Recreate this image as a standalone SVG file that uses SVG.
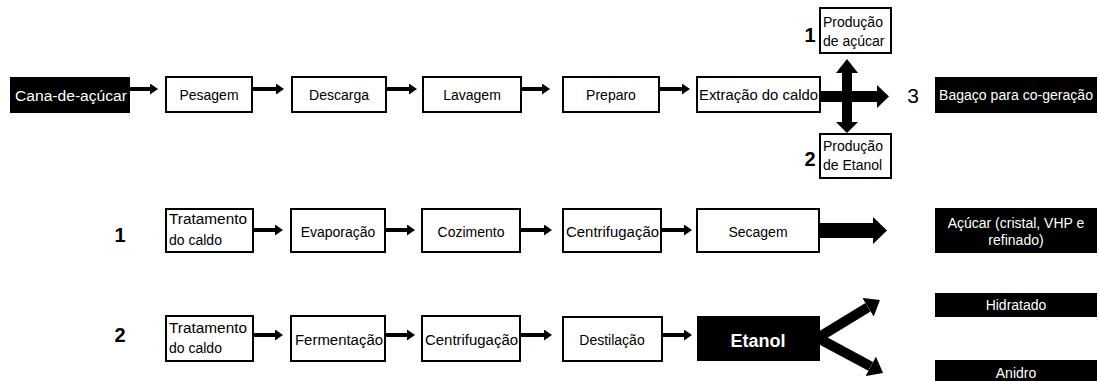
<svg xmlns="http://www.w3.org/2000/svg" width="1099" height="381" viewBox="0 0 1099 381">
<defs>
<style>
.wb{fill:#fff;stroke:#000;stroke-width:2}
.bb{fill:#000;stroke:none}
.t{font-family:"Liberation Sans",Arial,sans-serif;font-size:14px;fill:#000}
.tw{font-family:"Liberation Sans",Arial,sans-serif;font-size:14px;fill:#fff}
.c{text-anchor:middle}
.num{font-family:"Liberation Sans",Arial,sans-serif;font-size:20px;font-weight:bold;fill:#000;text-anchor:middle}
.sa{stroke:#000;stroke-width:4;fill:none;marker-end:url(#sh)}
.fa{stroke:#000;stroke-width:10;fill:none;marker-end:url(#bh)}
</style>
<marker id="sh" markerUnits="userSpaceOnUse" viewBox="0 0 8 11" refX="0" refY="5.5" markerWidth="8" markerHeight="11" orient="auto"><path d="M0,0 L8,5.5 L0,11 Z" fill="#000"/></marker>
<marker id="bh" markerUnits="userSpaceOnUse" viewBox="0 0 14 22" refX="0" refY="11" markerWidth="14" markerHeight="22" orient="auto"><path d="M0,0 L14,11 L0,22 Z" fill="#000"/></marker>
</defs>
<rect width="1099" height="381" fill="#fff"/>

<g id="connectors">
<line class="sa" x1="130" y1="89" x2="150" y2="89"/>
<line class="sa" x1="252" y1="89" x2="276" y2="89"/>
<line class="sa" x1="386" y1="89" x2="409" y2="89"/>
<line class="sa" x1="521" y1="89" x2="542" y2="89"/>
<line class="sa" x1="659" y1="89" x2="682" y2="89"/>
<polygon fill="#000" points="820,91 842,91 842,73 836,73 847,59 858,73 852,73 852,91 877,91 877,85 889,96.5 877,108 877,102 852,102 852,122 858,122 847,133 836,122 842,122 842,102 820,102"/>
<line class="sa" x1="253" y1="230" x2="275" y2="230"/>
<line class="sa" x1="385" y1="230" x2="407" y2="230"/>
<line class="sa" x1="520" y1="230" x2="544" y2="230"/>
<line class="sa" x1="661" y1="230" x2="684" y2="230"/>
<polygon fill="#000" points="819,223 873,223 873,217 887,230.5 873,244 873,238 819,238"/>
<line class="sa" x1="253" y1="335" x2="275" y2="335"/>
<line class="sa" x1="385" y1="335" x2="407" y2="335"/>
<line class="sa" x1="520" y1="335" x2="544" y2="335"/>
<line class="sa" x1="662" y1="335" x2="684" y2="335"/>
<line class="fa" x1="816" y1="339" x2="868" y2="307.3"/>
<line class="fa" x1="816" y1="337" x2="870.7" y2="366.4"/>
</g>

<g id="n-cana"><rect class="bb" x="10" y="77" width="120" height="36"/><text class="tw" x="15" y="101" font-size="15" textLength="112" lengthAdjust="spacingAndGlyphs">Cana-de-açúcar</text></g>
<g id="n-pesagem"><rect class="wb" x="166" y="77" width="86" height="35"/><text class="t c" x="209" y="100">Pesagem</text></g>
<g id="n-descarga"><rect class="wb" x="292" y="77" width="94" height="35"/><text class="t c" x="339" y="100">Descarga</text></g>
<g id="n-lavagem"><rect class="wb" x="423" y="77" width="98" height="35"/><text class="t c" x="472" y="100">Lavagem</text></g>
<g id="n-preparo"><rect class="wb" x="563" y="77" width="96" height="35"/><text class="t c" x="611" y="100">Preparo</text></g>
<g id="n-extracao"><rect class="wb" x="697" y="77" width="123" height="35"/><text class="t" x="699" y="100" textLength="119" lengthAdjust="spacingAndGlyphs">Extração do caldo</text></g>
<g id="n-prod-acucar"><rect class="wb" x="820" y="8" width="71" height="45"/><text class="t" x="823" y="27">Produção</text><text class="t" x="823" y="46">de açúcar</text><text class="num" x="810" y="42">1</text></g>
<g id="n-prod-etanol"><rect class="wb" x="820" y="134" width="71" height="44"/><text class="t" x="823" y="151">Produção</text><text class="t" x="823" y="170">de Etanol</text><text class="num" x="810" y="166">2</text></g>
<g id="n-bagaco"><text x="913" y="103" font-family="Liberation Sans, Arial, sans-serif" font-size="21" text-anchor="middle" fill="#000">3</text><rect class="bb" x="935" y="77" width="162" height="36"/><text class="tw" x="939" y="100" textLength="154" lengthAdjust="spacingAndGlyphs">Bagaço para co-geração</text></g>

<g id="n-label1"><text class="num" x="120" y="242">1</text></g>
<g id="n-trat1"><rect class="wb" x="166" y="209" width="87" height="43"/><text class="t" x="169" y="224" textLength="78" lengthAdjust="spacingAndGlyphs">Tratamento</text><text class="t" x="169" y="245">do caldo</text></g>
<g id="n-evap"><rect class="wb" x="291" y="209" width="94" height="43"/><text class="t c" x="338" y="237">Evaporação</text></g>
<g id="n-coz"><rect class="wb" x="422" y="209" width="98" height="43"/><text class="t c" x="471" y="237">Cozimento</text></g>
<g id="n-centr1"><rect class="wb" x="563" y="209" width="98" height="43"/><text class="t" x="566" y="237" textLength="93" lengthAdjust="spacingAndGlyphs">Centrifugação</text></g>
<g id="n-secagem"><rect class="wb" x="697" y="209" width="122" height="43"/><text class="t c" x="758" y="237">Secagem</text></g>
<g id="n-acucar"><rect class="bb" x="935" y="208" width="162" height="45"/><text class="tw c" x="1016" y="228">Açúcar (cristal, VHP e</text><text class="tw c" x="1016" y="245">refinado)</text></g>

<g id="n-label2"><text class="num" x="120" y="342">2</text></g>
<g id="n-trat2"><rect class="wb" x="166" y="316" width="87" height="45"/><text class="t" x="169" y="333" textLength="78" lengthAdjust="spacingAndGlyphs">Tratamento</text><text class="t" x="169" y="353">do caldo</text></g>
<g id="n-ferm"><rect class="wb" x="291" y="316" width="94" height="45"/><text class="t" x="295" y="345" textLength="88" lengthAdjust="spacingAndGlyphs">Fermentação</text></g>
<g id="n-centr2"><rect class="wb" x="422" y="316" width="98" height="45"/><text class="t" x="425" y="345" textLength="93" lengthAdjust="spacingAndGlyphs">Centrifugação</text></g>
<g id="n-destil"><rect class="wb" x="563" y="317" width="99" height="44"/><text class="t c" x="612" y="345">Destilação</text></g>
<g id="n-etanol"><rect class="bb" x="697" y="316" width="123" height="45"/><text x="758" y="347" font-family="Liberation Sans, Arial, sans-serif" font-size="18" font-weight="bold" text-anchor="middle" fill="#fff">Etanol</text></g>
<g id="n-hidratado"><rect class="bb" x="935" y="293" width="162" height="24"/><text class="tw c" x="1016" y="310">Hidratado</text></g>
<g id="n-anidro"><rect class="bb" x="935" y="360" width="162" height="21"/><text class="tw c" x="1016" y="378">Anidro</text></g>
</svg>
